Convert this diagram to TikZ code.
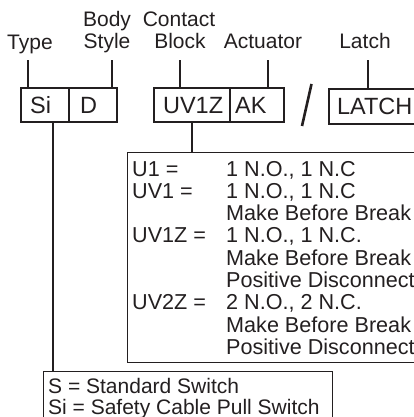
\documentclass[tikz,border=0pt]{standalone}
\usepackage{fontspec}
\setmainfont{Liberation Sans}
\definecolor{ink}{HTML}{231F20}
\begin{document}
\begin{tikzpicture}[x=1pt,y=-1pt,
  every node/.style={font=\fontsize{21}{22}\selectfont, text=ink, inner sep=0pt},
  lab/.style={anchor=base},
  txt/.style={anchor=base west},
  ptxt/.style={anchor=base west, font=\fontsize{21.6}{22}\selectfont},
  cell/.style={draw=ink, line width=2.2pt, minimum height=34pt, font=\fontsize{23.5}{24}\selectfont, text height=16.2pt, text depth=0pt, align=left, anchor=north west},
  tick/.style={draw=ink, line width=2pt},
  panel/.style={draw=ink, line width=1.4pt, anchor=north west},
  conn/.style={draw=ink, line width=1.6pt}]
\useasboundingbox (0,0) rectangle (414,417);
\clip (0,0) rectangle (414,417);
% header labels
\node[lab] (lType) at (30,50) {Type};
\node[lab] (lBody) at (107,27) {Body};
\node[lab] (lStyle) at (107,49) {Style};
\node[lab] (lContact) at (179,27) {Contact};
\node[lab] (lBlock) at (180,49) {Block};
\node[lab] (lAct) at (263,49) {Actuator};
\node[lab] (lLatch) at (365,49) {Latch};
% code boxes
\node[cell, inner xsep=9pt, text width=30pt] (Si) at (20,87) {Si};
\node[cell, inner xsep=11pt, text width=26pt] (D) at (68,87) {D};
\node[cell, inner xsep=9pt, text width=58pt] (UV) at (153,87) {UV1Z};
\node[cell, inner xsep=5pt, text width=44pt] (AK) at (229,87) {AK};
\node[cell, inner xsep=8pt, text width=96pt, minimum height=35pt] (LATCH) at (328,88) {LATCH};
% ticks
\draw[tick] ([xshift=8pt]Si.north west) -- ++(0,-27);
\draw[tick] ([xshift=-6pt]D.north east) -- ++(0,-27);
\draw[tick] ([xshift=27pt]UV.north west) -- ++(0,-27);
\draw[tick] ([xshift=-17pt]AK.north east) -- ++(0,-27);
\draw[tick] ([xshift=40pt]LATCH.north west) -- ++(0,-28);
% slash
\draw[ink, line width=2.6pt] (311.5,84) -- (302,126);
% contact block panel
\node[panel, minimum width=320pt, minimum height=210pt] (opts) at (127,152) {};
\draw[conn] ([xshift=39pt]UV.south west) -- ([xshift=39pt]UV.south west |- opts.north);
\node[ptxt] (k0) at (132,176) {U1 =};
\node[ptxt] (v0) at (226,176) {1 N.O., 1 N.C};
\node[ptxt] (k1) at (132,198.3) {UV1 =};
\node[ptxt] (v1) at (226,198.3) {1 N.O., 1 N.C};
\node[ptxt] (v2) at (226,220.6) {Make Before Break};
\node[ptxt] (k3) at (132,242.9) {UV1Z =};
\node[ptxt] (v3) at (226,242.9) {1 N.O., 1 N.C.};
\node[ptxt] (v4) at (226,265.2) {Make Before Break};
\node[ptxt] (v5) at (226,287.5) {Positive Disconnect};
\node[ptxt] (k6) at (132,309.8) {UV2Z =};
\node[ptxt] (v6) at (226,309.8) {2 N.O., 2 N.C.};
\node[ptxt] (v7) at (226,332.1) {Make Before Break};
\node[ptxt] (v8) at (226,354.4) {Positive Disconnect};
% type legend
\node[panel, minimum width=289pt, minimum height=80pt] (legend) at (43,371) {};
\draw[conn] ([xshift=33pt]Si.south west) -- ([xshift=33pt]Si.south west |- legend.north);
\node[txt] (t0) at (48,393) {S = Standard Switch};
\node[txt] (t1) at (48,414) {Si = Safety Cable Pull Switch};
\end{tikzpicture}
\end{document}
